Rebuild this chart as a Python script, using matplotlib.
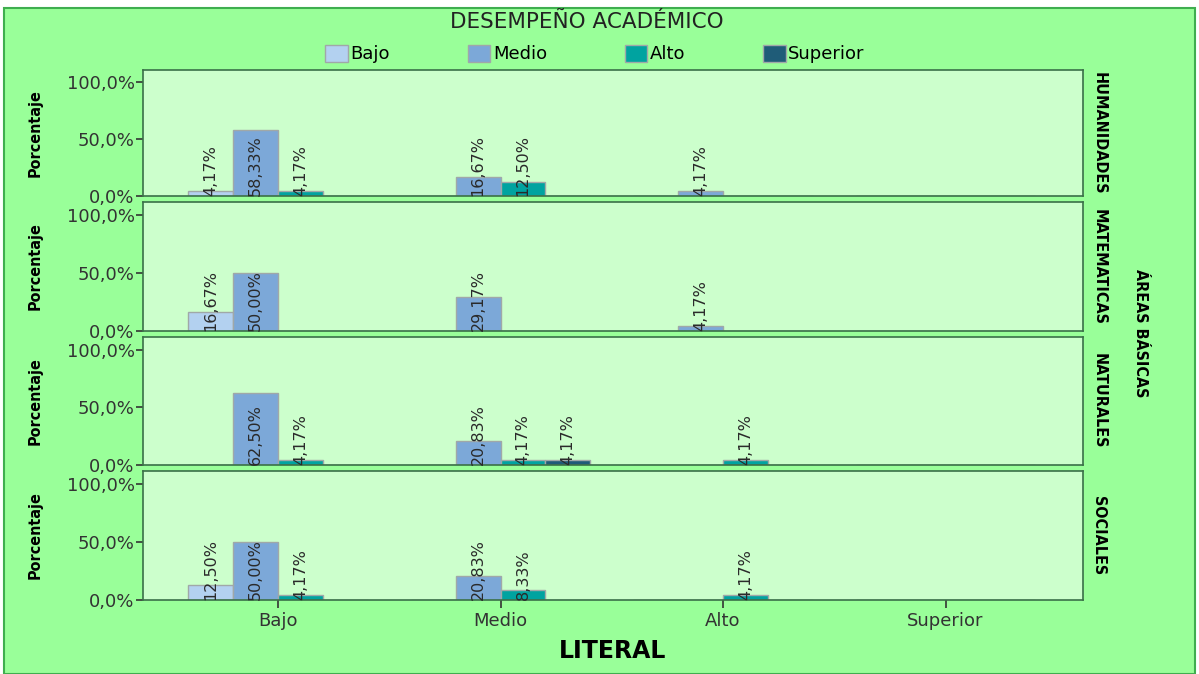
import numpy as np
import matplotlib
matplotlib.use('Agg')
from matplotlib import pyplot as plt
from matplotlib.patches import Rectangle, Patch

plt.rcParams['font.family'] = ['DejaVu Sans']

categories = ["Bajo", "Medio", "Alto", "Superior"]
series = ["Bajo", "Medio", "Alto", "Superior"]
areas = ["HUMANIDADES", "MATEMATICAS", "NATURALES", "SOCIALES"]

# percent per category (Bajo, Medio, Alto, Superior) for each series
humanidades = {"Bajo": [4.17, 0, 0, 0], "Medio": [58.33, 16.67, 4.17, 0],
               "Alto": [4.17, 12.50, 0, 0], "Superior": [0, 0, 0, 0]}
matematicas = {"Bajo": [16.67, 0, 0, 0], "Medio": [50.00, 29.17, 4.17, 0],
               "Alto": [0, 0, 0, 0], "Superior": [0, 0, 0, 0]}
naturales = {"Bajo": [0, 0, 0, 0], "Medio": [62.50, 20.83, 0, 0],
             "Alto": [4.17, 4.17, 4.17, 0], "Superior": [0, 4.17, 0, 0]}
sociales = {"Bajo": [12.50, 0, 0, 0], "Medio": [50.00, 20.83, 0, 0],
            "Alto": [4.17, 8.33, 4.17, 0], "Superior": [0, 0, 0, 0]}
data = [humanidades, matematicas, naturales, sociales]

colors = {"Bajo": "#b3d1f0", "Medio": "#7ca8d8", "Alto": "#00a3a0", "Superior": "#1f5c78"}
cond = dict(family="DejaVu Sans", fontstretch="condensed", fontweight="bold")

W, H = 1199, 674
fig = plt.figure(figsize=(W / 100, H / 100), dpi=100, facecolor="white")
fig.patches.append(Rectangle((4 / W, 0), 1191 / W, 1 - 8 / H, transform=fig.transFigure,
                             facecolor="#99ff99", edgecolor="#3fae4f", lw=1.5, zorder=-10))

left, right = 143 / W, 1083 / W
tops = [70, 202, 337, 471]
bottoms = [196, 331, 465, 600]
x = np.arange(len(categories))
bw = 0.202

for k, area in enumerate(areas):
    ax = fig.add_axes([left, 1 - bottoms[k] / H, right - left, (bottoms[k] - tops[k]) / H])
    ax.set_facecolor("#ccffcc")
    for j, s in enumerate(series):
        vals = data[k][s]
        pos = x + (j - 1.5) * bw
        ax.bar(pos, vals, bw, color=colors[s], edgecolor="#a0a8a8", lw=1, zorder=2)
        for p, v in zip(pos, vals):
            if v > 0:
                ax.text(p, 0.3, f"{v:.2f}%".replace(".", ","), rotation=90,
                        ha="center", va="bottom", fontsize=11.5, color="#2a2a2a", zorder=3)
    ax.set_xlim(-0.607, 3.618)
    ax.set_ylim(0, 111)
    ax.set_yticks([0, 50, 100])
    ax.set_yticklabels(["0,0%", "50,0%", "100,0%"], fontsize=13, color="#333333")
    ax.tick_params(axis="y", length=5, width=1.2, color="#333333", pad=1)
    for sp in ax.spines.values():
        sp.set_color("#3a7048")
        sp.set_linewidth(1.2)
    ax.set_ylabel("Porcentaje", fontsize=11.5, **cond)
    ax.yaxis.set_label_coords(-0.107, 0.5)
    ax.text(1.017, 0.5, area, transform=ax.transAxes, rotation=-90, ha="center", va="center",
            fontsize=11.5, **cond)
    if k < 3:
        ax.set_xticks([])
    else:
        ax.set_xticks(x)
        ax.set_xticklabels(categories, fontsize=13, color="#333333")
        ax.tick_params(axis="x", length=6, width=1.2, color="#333333", pad=3)
        ax.set_xlabel("LITERAL", fontsize=17, fontweight="bold", labelpad=6)

fig.text(1140 / W, 1 - 333 / H, "ÁREAS BÁSICAS", rotation=-90, ha="center", va="center",
         fontsize=11.5, **cond)
fig.text(587 / W, 1 - 22 / H, "DESEMPEÑO ACADÉMICO", ha="center", va="center",
         fontsize=15.5, color="#222222")

handles = [Patch(facecolor=colors[s], edgecolor="#a0a8a8") for s in series]
fig.legend(handles, series, loc="center", bbox_to_anchor=(595 / W, 1 - 54 / H), ncol=4,
           frameon=False, fontsize=13, handlelength=1.25, handleheight=1.1,
           handletextpad=0.15, columnspacing=4.3)

fig.savefig("out.png", dpi=100, facecolor=fig.get_facecolor())
